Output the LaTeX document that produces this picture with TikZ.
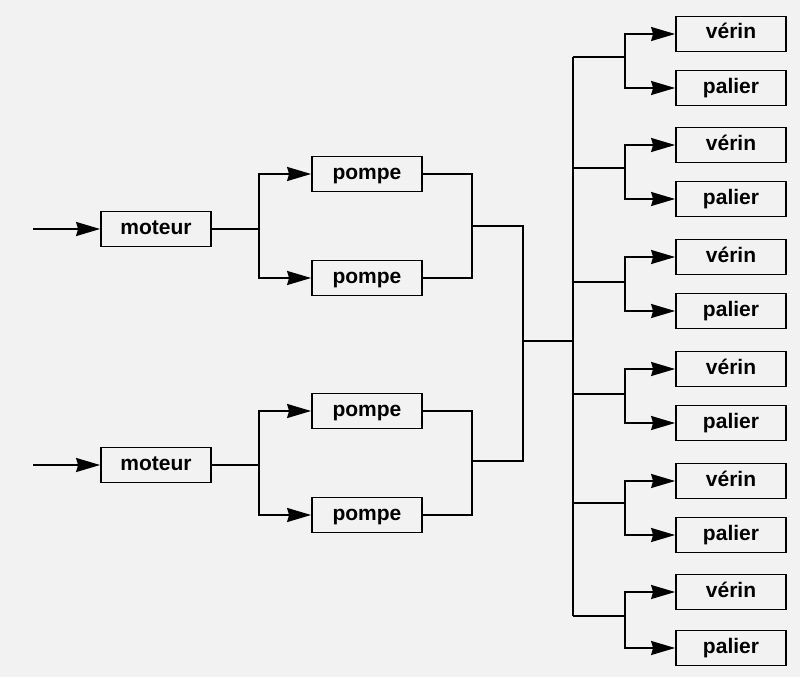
\documentclass[tikz,border=0pt]{standalone}
\usepackage{fontspec}
\setmainfont{Liberation Sans}
\usetikzlibrary{arrows.meta}
\definecolor{bg}{RGB}{242,242,242}
\begin{document}
\begin{tikzpicture}[x=1pt,y=-1pt,
  box/.style={draw, line width=1.8pt, minimum width=110pt, minimum height=35pt, inner sep=0pt,
    text height=15pt, text depth=5pt, font=\fontsize{21}{21}\selectfont\bfseries, fill=bg},
  wire/.style={line width=1.8pt},
  arr/.style={wire, -{Stealth[length=24pt,width=14pt,inset=2pt]}}]
\useasboundingbox (0,0) rectangle (800,677);
\fill[bg] (0,0) rectangle (800,677);

% motors and pumps
\node[box] (m1) at (156,229) {moteur};
\node[box] (m2) at (156,465) {moteur};
\node[box] (p1) at (367,174) {pompe};
\node[box] (p2) at (367,278) {pompe};
\node[box] (p3) at (367,411) {pompe};
\node[box] (p4) at (367,515) {pompe};

\coordinate (in1) at (33,229);
\coordinate (in2) at (33,465);
\coordinate (b1) at (259,229);
\coordinate (b2) at (259,465);
\draw[arr] (in1) -- (m1);
\draw[arr] (in2) -- (m2);
\draw[wire] (m1.east) -- (b1);
\draw[wire] (m2.east) -- (b2);
\draw[arr] (b1) |- (p1);
\draw[arr] (b1) |- (p2);
\draw[arr] (b2) |- (p3);
\draw[arr] (b2) |- (p4);

\coordinate (c1) at (472,226);
\coordinate (c2) at (472,461);
\draw[wire] (p1.east) -| (c1) |- (p2.east);
\draw[wire] (p3.east) -| (c2) |- (p4.east);
\coordinate (j1) at (523,226);
\coordinate (j2) at (523,461);
\coordinate (j3) at (523,341);
\coordinate (k3) at (573,341);
\draw[wire] (c1) -- (j1) -- (j2) -- (c2);
\draw[wire] (j3) -- (k3);

% actuators and bearings
\foreach \i/\yv/\yp/\yb in {1/34/88/57, 2/145/199/168, 3/257/311/282, 4/369/423/394, 5/481/535/503, 6/592/648/616}{
  \node[box] (v\i) at (731,\yv) {vérin};
  \node[box] (l\i) at (731,\yp) {palier};
  \coordinate (s\i) at (573,\yb);
  \coordinate (t\i) at (625,\yb);
  \draw[wire] (s\i) -- (t\i);
  \draw[arr] (t\i) |- (v\i);
  \draw[arr] (t\i) |- (l\i);
}
\draw[wire] (s1) -- (s6);
\end{tikzpicture}
\end{document}
